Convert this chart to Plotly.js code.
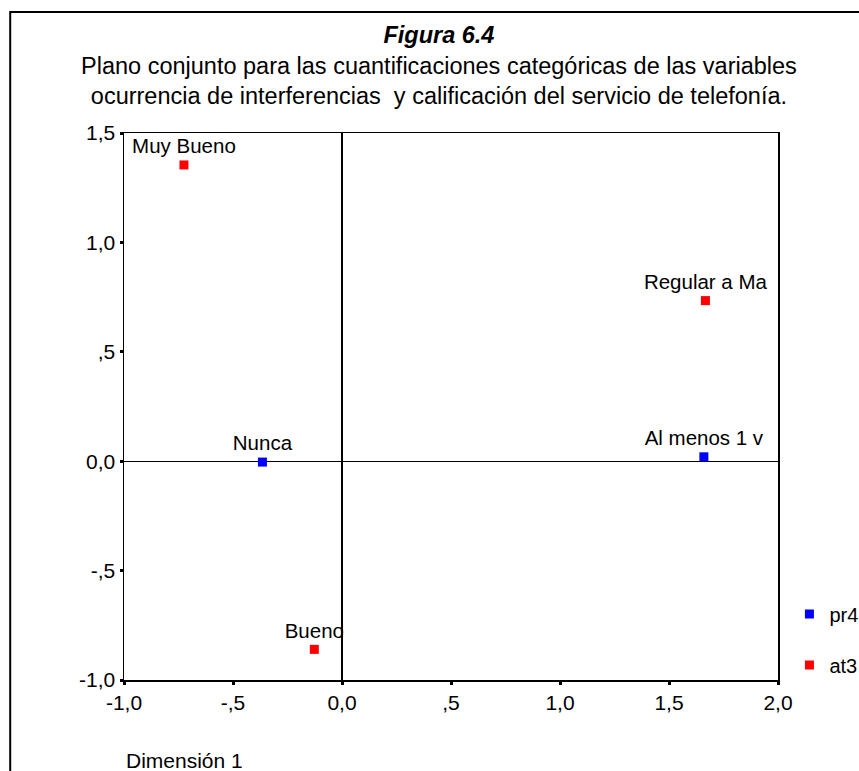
<!DOCTYPE html>
<html>
<head>
<meta charset="utf-8">
<script src="https://cdn.plot.ly/plotly-3.0.1.min.js"></script>
<style>html,body{margin:0;padding:0;background:#fff;}#chart{width:859px;height:771px;}</style>
</head>
<body>
<div id="chart"></div>
<script>
// Data
const pr4Labels = ["Nunca", "Al menos 1 v"];
const pr4X = [-0.365, 1.66];
const pr4Y = [-0.004, 0.02];

const at3Labels = ["Muy Bueno", "Bueno", "Regular a Ma"];
const at3X = [-0.725, -0.127, 1.667];
const at3Y = [1.354, -0.86, 0.734];

const xTickVals = [-1, -0.5, 0, 0.5, 1, 1.5, 2];
const xTickText = ["-1,0", "-,5", "0,0", ",5", "1,0", "1,5", "2,0"];
const yTickVals = [-1, -0.5, 0, 0.5, 1, 1.5];
const yTickText = ["-1,0", "-,5", "0,0", ",5", "1,0", "1,5"];

const FONT = "Liberation Sans, Arial, sans-serif";

const traces = [
  {
    type: "scatter", mode: "markers+text", name: "pr4",
    x: pr4X, y: pr4Y, text: pr4Labels, textposition: "top center",
    textfont: {family: FONT, size: 20.5, color: "#000"},
    marker: {symbol: "square", size: 9, color: "#0000ff"},
    cliponaxis: false, legendgroup: "a"
  },
  {
    type: "scatter", mode: "markers+text", name: "at3",
    x: at3X, y: at3Y, text: at3Labels, textposition: "top center",
    textfont: {family: FONT, size: 20.5, color: "#000"},
    marker: {symbol: "square", size: 9, color: "#ff0000"},
    cliponaxis: false, legendgroup: "b"
  }
];

const layout = {
  width: 859, height: 771,
  margin: {l: 124, r: 81, t: 133, b: 91},
  paper_bgcolor: "#fff", plot_bgcolor: "#fff",
  font: {family: FONT, size: 20, color: "#000"},
  title: {
    text: "<b><i>Figura 6.4</i></b><br>Plano conjunto para las cuantificaciones categóricas de las variables<br>ocurrencia de interferencias  y calificación del servicio de telefonía.",
    font: {family: FONT, size: 23.5, color: "#000"},
    x: 0.511, xanchor: "center", y: 0.944, yanchor: "top"
  },
  xaxis: {
    range: [-1, 2], tickvals: xTickVals, ticktext: xTickText,
    showgrid: false, zeroline: true, zerolinecolor: "#000", zerolinewidth: 1.3,
    showline: true, mirror: true, linecolor: "#000", linewidth: 1.5,
    ticks: "outside", ticklen: 3, tickwidth: 3, tickcolor: "#000",
    tickfont: {family: FONT, size: 21, color: "#000"}
  },
  yaxis: {
    range: [-1, 1.5], tickvals: yTickVals, ticktext: yTickText,
    showgrid: false, zeroline: true, zerolinecolor: "#000", zerolinewidth: 1.3,
    showline: true, mirror: true, linecolor: "#000", linewidth: 1.5,
    ticks: "outside", ticklen: 3, tickwidth: 3, tickcolor: "#000",
    tickfont: {family: FONT, size: 21, color: "#000"}
  },
  showlegend: true,
  legend: {
    xref: "container", yref: "container",
    x: 0.919, xanchor: "left", y: 0.1706, yanchor: "middle",
    font: {family: FONT, size: 20, color: "#000"},
    bgcolor: "rgba(0,0,0,0)", tracegroupgap: 22, traceorder: "grouped",
    itemwidth: 30
  },
  annotations: [
    {
      text: "Dimensión 1", xref: "paper", yref: "paper", x: 0, y: 0,
      xanchor: "left", yanchor: "middle", yshift: -80, showarrow: false,
      font: {family: FONT, size: 21, color: "#000"}
    }
  ],
  shapes: [
    {
      type: "rect", xref: "paper", yref: "paper",
      x0: -0.174, x1: 1.3, y0: -0.3, y1: 1.2212,
      line: {color: "#000", width: 2}, fillcolor: "rgba(0,0,0,0)", layer: "below"
    }
  ]
};

Plotly.newPlot("chart", traces, layout, {displayModeBar: false, staticPlot: true});
</script>
</body>
</html>
